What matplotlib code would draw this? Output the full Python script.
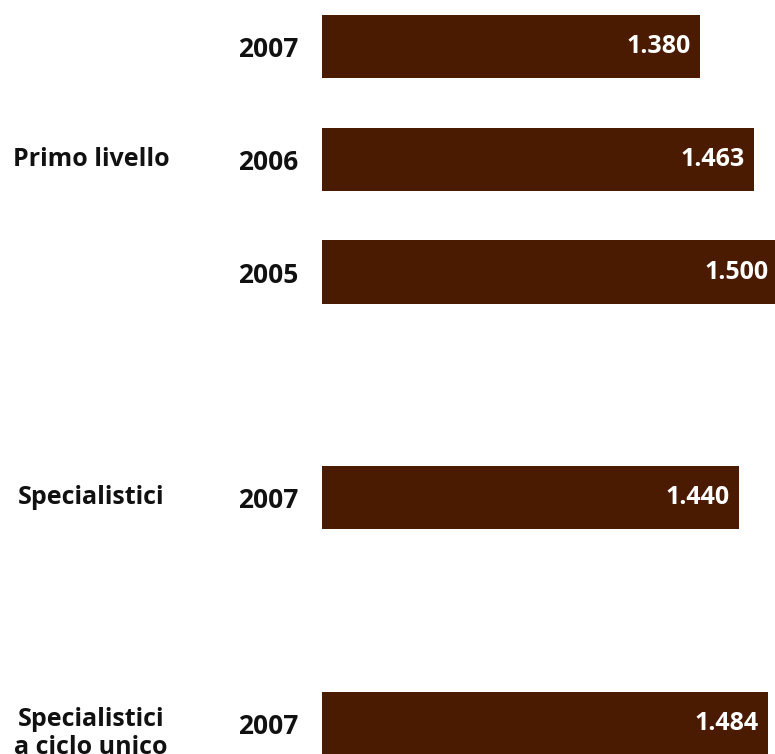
import matplotlib

matplotlib.use("Agg")

import matplotlib.pyplot as plt
from matplotlib.transforms import blended_transform_factory

# Iscritti per tipo di corso e anno
groups = ["Primo livello", "Specialistici", "Specialistici\na ciclo unico"]
years = ["2007", "2006", "2005", "2007", "2007"]
values = [1.380, 1.463, 1.500, 1.440, 1.484]
value_labels = ["1.380", "1.463", "1.500", "1.440", "1.484"]

# row slots, top to bottom; empty slots separate the groups
rows = [0, 1, 2, 4, 6]
group_rows = [1, 4, 6.09]

BAR_COLOR = "#4A1B00"
FONT = ["Open Sans", "DejaVu Sans"]

plt.rcParams["font.family"] = FONT

fig = plt.figure(figsize=(7.75, 7.54), dpi=100)
ax = fig.add_axes([322 / 775, 0, 1 - 322 / 775, 1])

ax.barh(rows, values, height=0.56, color=BAR_COLOR, left=0)
ax.set_xlim(0.798, 1.495)
ax.set_ylim(6.27, -0.41)

ax.set_yticks(rows)
ax.set_yticklabels(years, fontsize=19, fontweight="bold", color="#111111")
ax.tick_params(axis="y", length=0, pad=17)
ax.set_xticks([])
for side in ax.spines.values():
    side.set_visible(False)

for r, v, lab in zip(rows, values, value_labels):
    ax.annotate(lab, xy=(v, r), xytext=(-7, 0), textcoords="offset points",
                ha="right", va="center", color="white", fontsize=18,
                fontweight="bold", annotation_clip=False)

trans = blended_transform_factory(fig.transFigure, ax.transData)
for g, r in zip(groups, group_rows):
    ax.text(91 / 775, r, g, transform=trans, ha="center", va="center",
            fontsize=18, fontweight="bold", color="#111111", linespacing=1.15)

fig.savefig("out.png", dpi=100)
